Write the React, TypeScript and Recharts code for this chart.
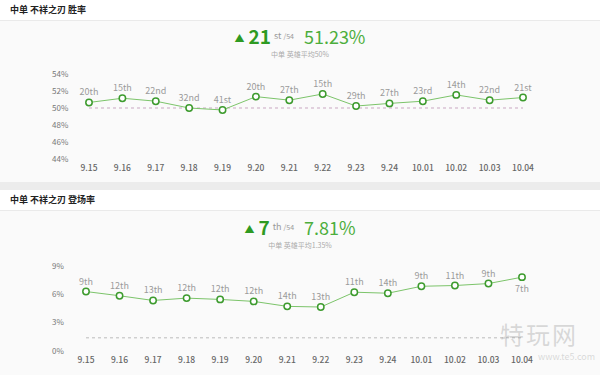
import React from "react";
import { LineChart, Line, XAxis, YAxis, ReferenceLine, LabelList } from "recharts";

const dates = ["9.15", "9.16", "9.17", "9.18", "9.19", "9.20", "9.21", "9.22", "9.23", "9.24", "10.01", "10.02", "10.03", "10.04"];

const winRate = [50.65, 51.15, 50.8, 50.0, 49.77, 51.34, 50.92, 51.65, 50.23, 50.54, 50.8, 51.54, 50.92, 51.23];
const winRank = ["20th", "15th", "22nd", "32nd", "41st", "20th", "27th", "15th", "29th", "27th", "23rd", "14th", "22nd", "21st"];
const winTicks = [44, 46, 48, 50, 52, 54];
const winAvg = 50;

const pickRate = [6.28, 5.83, 5.33, 5.58, 5.44, 5.23, 4.7, 4.63, 6.21, 6.1, 6.84, 6.92, 7.13, 7.81];
const pickRank = ["9th", "12th", "13th", "12th", "12th", "12th", "14th", "13th", "11th", "14th", "9th", "11th", "9th", "7th"];
const pickTicks = [0, 3, 6, 9];
const pickAvg = 1.35;

const FONT = "'Noto Sans CJK SC', 'Noto Sans', sans-serif";
const LINE = "#7cc46a";
const DOT = "#3d9b2e";

const winData = dates.map((d, i) => ({ date: d, value: winRate[i], rank: winRank[i] }));
const pickData = dates.map((d, i) => ({ date: d, value: pickRate[i], rank: pickRank[i] }));

function YTick(props: any) {
  return (
    <text x={52} y={props.y} dy={3} fontSize={8} fill="#777" fontFamily={FONT}>
      {props.payload.value}%
    </text>
  );
}

function XTick(props: any) {
  return (
    <text x={props.x} y={props.y} dy={8} textAnchor="middle" fontSize={8.5} fontWeight={500} fill="#666" fontFamily={FONT}>
      {props.payload.value}
    </text>
  );
}

function rankLabel(lastBelow: boolean) {
  return (p: any) => {
    const below = lastBelow && p.index === dates.length - 1;
    return (
      <text
        x={p.x}
        y={below ? p.y + 15 : p.y - 7}
        textAnchor="middle"
        fontSize={9}
        fill="#9a9a9a"
        fontFamily={FONT}
      >
        {p.value}
      </text>
    );
  };
}

function Header({ top, title }: { top: number; title: string }) {
  return (
    <div
      style={{
        position: "absolute",
        left: 0,
        top,
        width: 600,
        height: 21,
        background: "#fff",
        borderBottom: "1px solid #eaeaea",
        boxSizing: "border-box",
      }}
    >
      <span style={{ position: "absolute", left: 10, top: 3, fontSize: 9, fontWeight: 700, color: "#222", fontFamily: FONT }}>
        {title}
      </span>
    </div>
  );
}

function Summary({ top, rank, suffix, pct, avg }: { top: number; rank: string; suffix: string; pct: string; avg: string }) {
  return (
    <div style={{ position: "absolute", left: 0, top, width: 600, textAlign: "center", fontFamily: FONT }}>
      <div style={{ height: 22, lineHeight: "22px", whiteSpace: "nowrap" }}>
        <span style={{ color: "#2e9a22", fontSize: 10, marginRight: 4, verticalAlign: "2px" }}>▲</span>
        <span style={{ color: "#2e9a22", fontSize: 19, fontWeight: 700 }}>{rank}</span>
        <span style={{ color: "#999", fontSize: 9, marginLeft: 3, verticalAlign: "5px" }}>{suffix}</span>
        <span style={{ color: "#999", fontSize: 7, marginLeft: 2, verticalAlign: "5px" }}>/54</span>
        <span style={{ color: "#4cae3c", fontSize: 18, marginLeft: 10 }}>{pct}</span>
      </div>
      <div style={{ fontSize: 7, color: "#aaa", marginTop: 2 }}>{avg}</div>
    </div>
  );
}

export default function App() {
  return (
    <div style={{ position: "absolute", left: 0, top: 0, width: 600, height: 375, background: "#fafafa", overflow: "hidden", fontFamily: FONT }}>
      <Header top={0} title="中单 不祥之刃 胜率" />
      <Summary top={25} rank="21" suffix="st" pct="51.23%" avg="中单 英雄平均50%" />
      <div style={{ position: "absolute", left: 0, top: 0 }}>
        <LineChart width={600} height={183} data={winData} margin={{ top: 74, right: 77, bottom: 0, left: 0 }}>
          <XAxis dataKey="date" axisLine={false} tickLine={false} height={24} tickSize={2} tickMargin={2} tick={<XTick />} interval={0} />
          <YAxis domain={[44, 54]} ticks={winTicks} axisLine={false} tickLine={false} width={89} tick={<YTick />} interval={0} />
          <ReferenceLine y={winAvg} stroke="#c9a7c2" strokeDasharray="3 3" />
          <Line
            type="linear"
            dataKey="value"
            stroke={LINE}
            strokeWidth={1}
            dot={{ r: 3.2, stroke: DOT, strokeWidth: 1.5, fill: "#fff" }}
            isAnimationActive={false}
          >
            <LabelList dataKey="rank" content={rankLabel(false)} />
          </Line>
        </LineChart>
      </div>

      <div style={{ position: "absolute", left: 0, top: 182, width: 600, height: 8, background: "#ececec" }} />

      <Header top={190} title="中单 不祥之刃 登场率" />
      <Summary top={216} rank="7" suffix="th" pct="7.81%" avg="中单 英雄平均1.35%" />
      <div style={{ position: "absolute", left: 0, top: 190 }}>
        <LineChart width={600} height={185} data={pickData} margin={{ top: 76, right: 78, bottom: 0, left: 0 }}>
          <XAxis dataKey="date" axisLine={false} tickLine={false} height={24.5} tickSize={2} tickMargin={2} tick={<XTick />} interval={0} />
          <YAxis domain={[0, 9]} ticks={pickTicks} axisLine={false} tickLine={false} width={86} tick={<YTick />} interval={0} />
          <ReferenceLine y={pickAvg} stroke="#bbb" strokeDasharray="3 3" />
          <Line
            type="linear"
            dataKey="value"
            stroke={LINE}
            strokeWidth={1}
            dot={{ r: 3.2, stroke: DOT, strokeWidth: 1.5, fill: "#fff" }}
            isAnimationActive={false}
          >
            <LabelList dataKey="rank" content={rankLabel(true)} />
          </Line>
        </LineChart>
      </div>

      <div style={{ position: "absolute", left: 500, top: 322, color: "rgba(150,150,150,0.35)", fontFamily: FONT, lineHeight: 1 }}>
        <div style={{ fontSize: 24, letterSpacing: 2 }}>特玩网</div>
      </div>
      <div style={{ position: "absolute", left: 538, top: 352, fontSize: 9, color: "rgba(150,150,150,0.35)", fontFamily: FONT, lineHeight: 1 }}>
        www.te5.com
      </div>
    </div>
  );
}
